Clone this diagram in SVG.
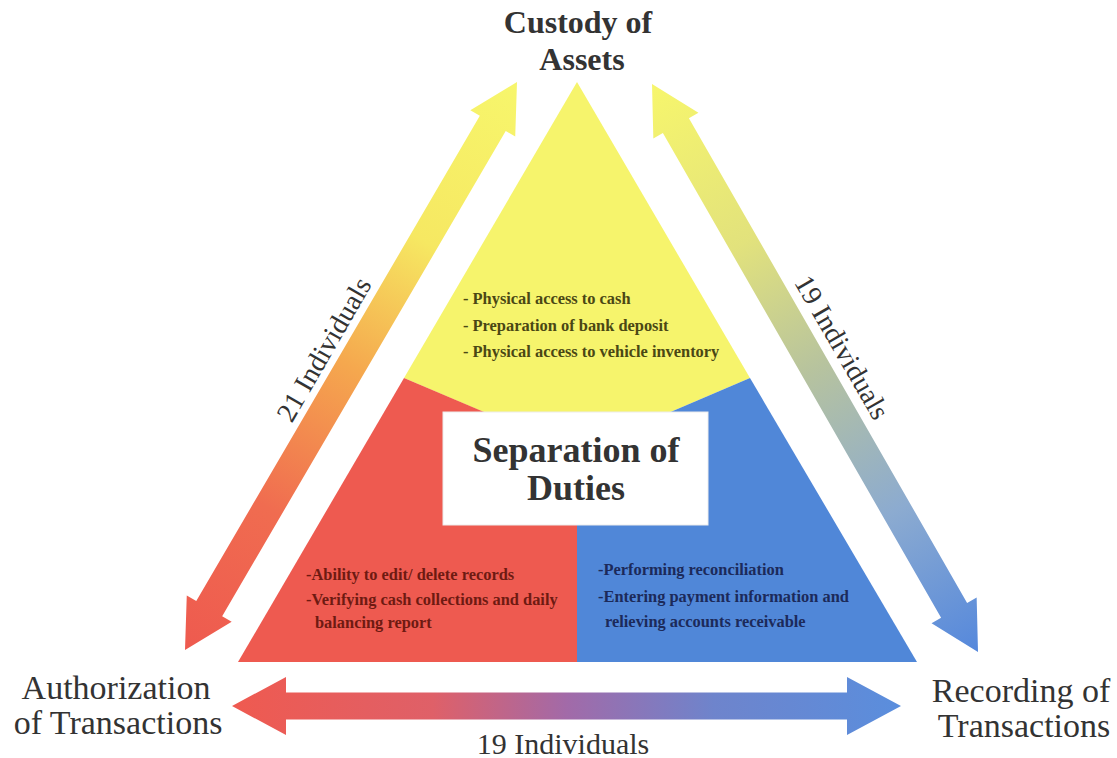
<svg xmlns="http://www.w3.org/2000/svg" width="1117" height="758" viewBox="0 0 1117 758">
<defs>
<style>
.lbl{font-family:"Liberation Serif","Times New Roman",serif;fill:#333333;text-anchor:middle}
.big{font-size:32px;font-weight:bold}
.side{font-size:34px}
.ind{font-size:28px}
.item{font-family:"Liberation Serif","Times New Roman",serif;font-size:16.4px;font-weight:bold}
.ty{fill:#4a4714}
.tr{fill:#6e1a12}
.tb{fill:#1c2a5a}
</style>
<linearGradient id="gL" gradientUnits="userSpaceOnUse" x1="185" y1="650" x2="517" y2="82">
<stop offset="0" stop-color="#ee5a4f"/>
<stop offset="0.25" stop-color="#f06c50"/>
<stop offset="0.5" stop-color="#f5a84e"/>
<stop offset="0.72" stop-color="#f6e862"/>
<stop offset="1" stop-color="#f7f66c"/>
</linearGradient>
<linearGradient id="gR" gradientUnits="userSpaceOnUse" x1="652" y1="84" x2="978" y2="652">
<stop offset="0" stop-color="#f7f66c"/>
<stop offset="0.28" stop-color="#e2e27c"/>
<stop offset="0.5" stop-color="#b7c39e"/>
<stop offset="0.75" stop-color="#8cabd0"/>
<stop offset="1" stop-color="#5588dc"/>
</linearGradient>
<linearGradient id="gB" gradientUnits="userSpaceOnUse" x1="232" y1="0" x2="901" y2="0">
<stop offset="0" stop-color="#ef5a50"/>
<stop offset="0.3" stop-color="#df6068"/>
<stop offset="0.5" stop-color="#a26aa8"/>
<stop offset="0.72" stop-color="#6e84cc"/>
<stop offset="1" stop-color="#5a8edd"/>
</linearGradient>
</defs>
<rect width="1117" height="758" fill="#ffffff"/>

<g id="triangle">
<polygon points="577,82 404,378 577,452 750,378" fill="#f6f46c"/>
<polygon points="404,378 238,662 578,662 578,452" fill="#ee5a50"/>
<polygon points="750,378 917,662 577,662 577,452" fill="#5087d8"/>
</g>

<g id="node-custody">
<text class="ty item" x="463" y="304">- Physical access to cash</text>
<text class="ty item" x="463" y="331">- Preparation of bank deposit</text>
<text class="ty item" x="463" y="357">- Physical access to vehicle inventory</text>
</g>

<g id="node-authorization">
<text class="tr item" x="306" y="580">-Ability to edit/ delete records</text>
<text class="tr item" x="306" y="605">-Verifying cash collections and daily</text>
<text class="tr item" x="315" y="628">balancing report</text>
</g>

<g id="node-recording">
<text class="tb item" x="598" y="575">-Performing reconciliation</text>
<text class="tb item" x="598" y="602">-Entering payment information and</text>
<text class="tb item" x="605" y="627">relieving accounts receivable</text>
</g>

<g id="node-center">
<rect x="443" y="412" width="265" height="113" fill="#ffffff" stroke="#ececec" stroke-width="1"/>
<text class="lbl" x="576" y="462" style="font-size:36px;font-weight:bold">Separation of</text>
<text class="lbl" x="576" y="500" style="font-size:36px;font-weight:bold">Duties</text>
</g>

<g id="connectors">
<polygon fill="url(#gL)" points="517,82 515.23,136.56 505.73,131.01 222.17,616.13 231.67,621.68 185,650 186.77,595.44 196.27,600.99 479.83,115.87 470.33,110.32"/>
<polygon fill="url(#gR)" points="652,84 698.44,112.69 688.90,118.16 967.12,602.90 976.66,597.43 978,652 931.56,623.31 941.10,617.84 662.88,133.10 653.34,138.57"/>
<polygon fill="url(#gB)" points="232,706 286,677 286,692.5 847,692.5 847,677 901,706 847,735 847,719.5 286,719.5 286,735"/>
<text class="lbl ind" x="332" y="354" transform="rotate(-60 332 354)">21 Individuals</text>
<text class="lbl ind" x="834" y="352" transform="rotate(60 834 352)">19 Individuals</text>
<text class="lbl" x="563" y="754" style="font-size:30px">19 Individuals</text>
</g>

<g id="label-custody">
<text class="lbl big" x="578" y="33">Custody of</text>
<text class="lbl big" x="582" y="70">Assets</text>
</g>
<g id="label-authorization">
<text class="lbl side" x="116" y="699">Authorization</text>
<text class="lbl side" x="118" y="734">of Transactions</text>
</g>
<g id="label-recording">
<text class="lbl side" x="1021" y="702">Recording of</text>
<text class="lbl side" x="1024" y="737">Transactions</text>
</g>
</svg>
